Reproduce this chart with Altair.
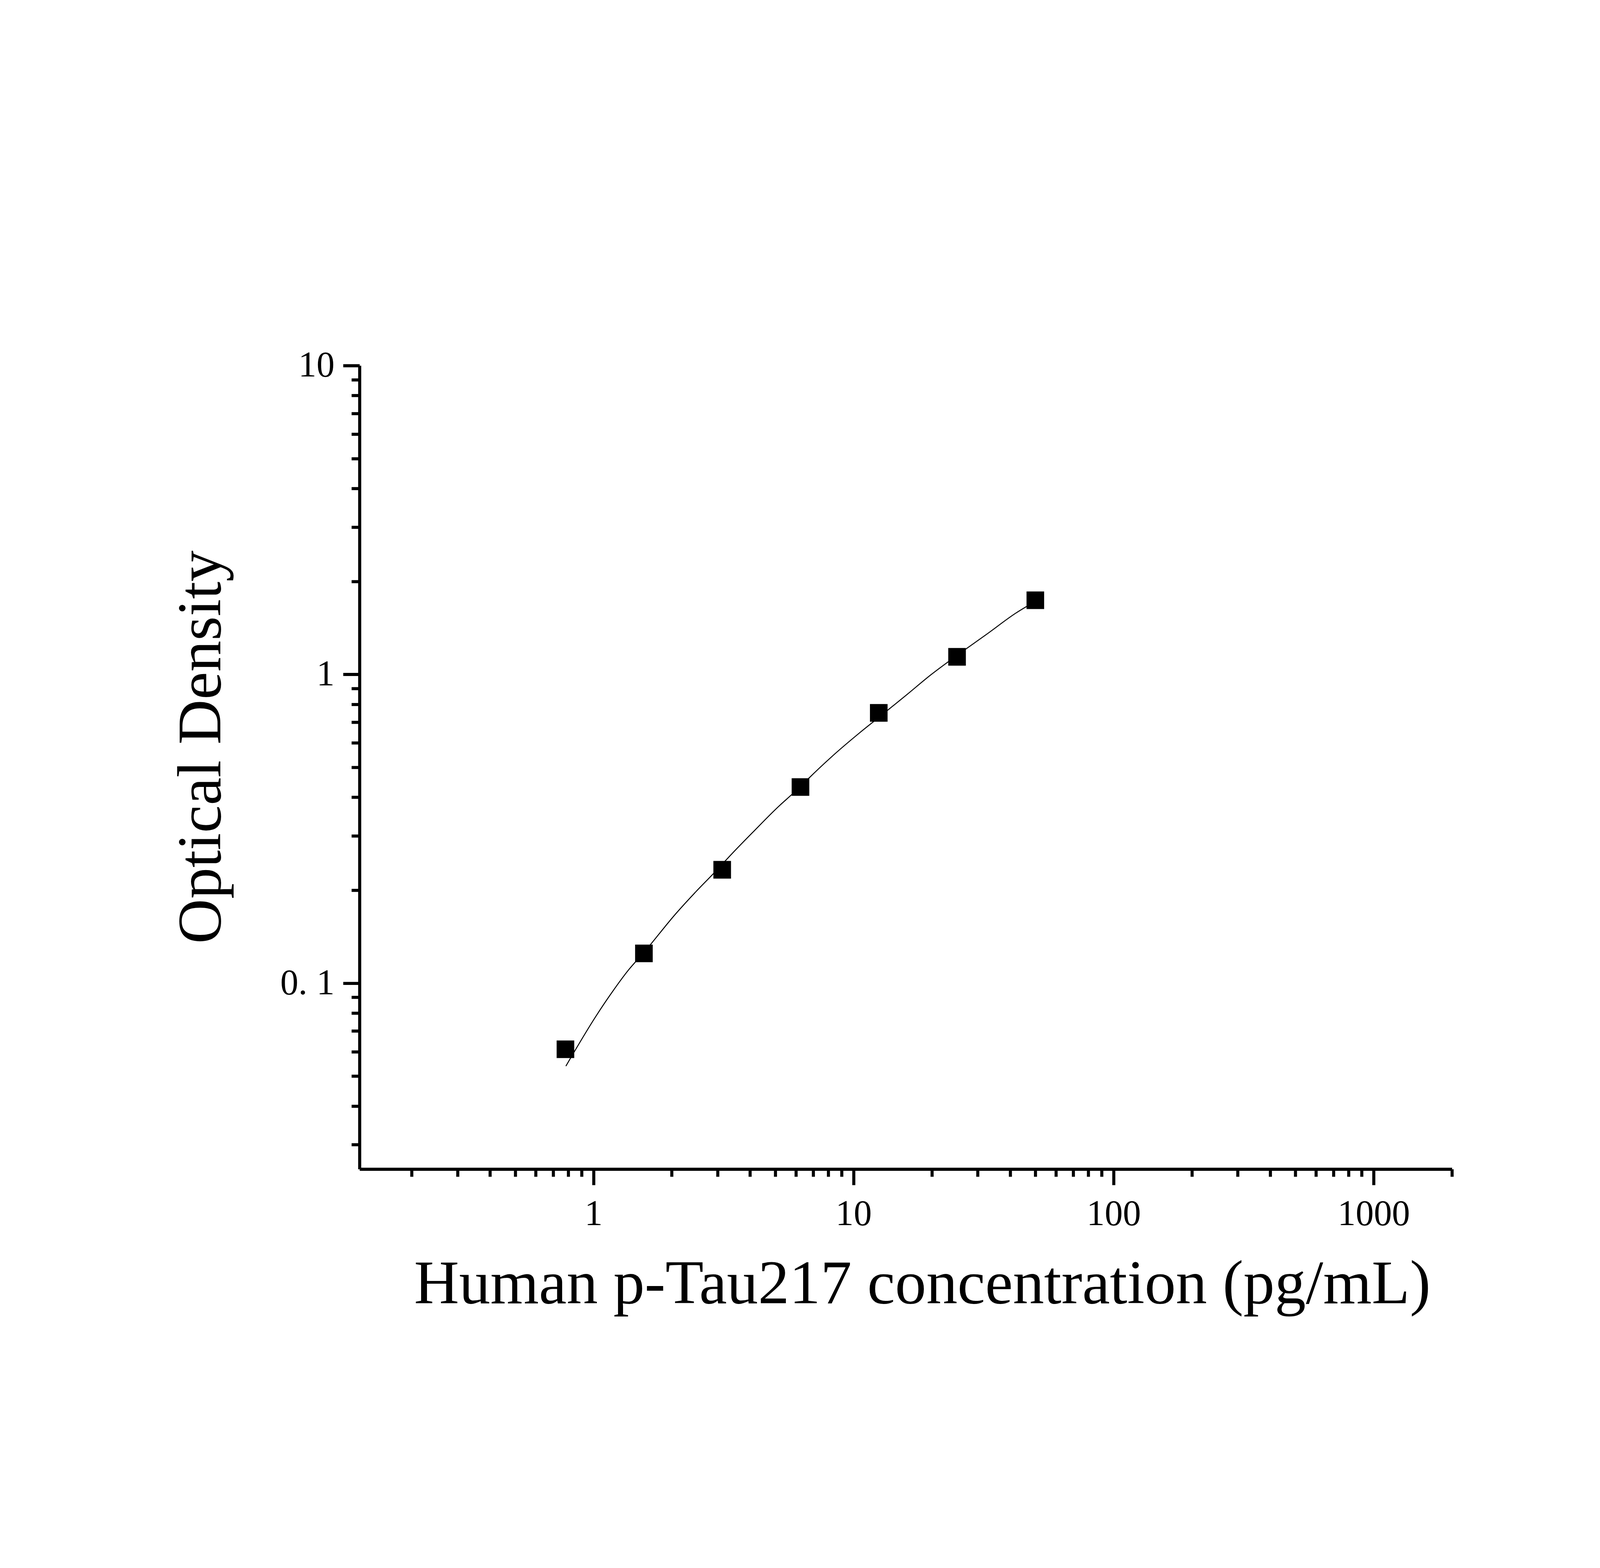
import altair as alt
import pandas as pd

# Standard points (concentration pg/mL, optical density)
conc = [0.78, 1.5625, 3.125, 6.25, 12.5, 25, 50]
od = [0.0611, 0.1249, 0.2330, 0.4318, 0.7506, 1.140, 1.738]

# Fitted curve, points
curve_conc = [0.783, 1.027, 1.160, 1.365, 1.563, 2.071, 2.474, 2.890, 3.426, 4.083,
              5.200, 5.740, 6.228, 6.722, 8.249, 10.51, 12.52, 16.06, 19.86, 24.98,
              32.62, 42.05, 50]
curve_od = [0.0539, 0.0787, 0.0917, 0.1105, 0.1258, 0.1678, 0.1977, 0.2263, 0.2639, 0.3072,
            0.3765, 0.4057, 0.4318, 0.4607, 0.5418, 0.6451, 0.7262, 0.861, 0.998, 1.152,
            1.352, 1.579, 1.724]

# Tick positions (major + minor) and the labelled ones
x_ticks = [0.2, 0.3, 0.4, 0.5, 0.6, 0.7, 0.8, 0.9,
           1, 2, 3, 4, 5, 6, 7, 8, 9,
           10, 20, 30, 40, 50, 60, 70, 80, 90,
           100, 200, 300, 400, 500, 600, 700, 800, 900,
           1000, 2000]
x_major = [1, 10, 100, 1000]
y_ticks = [0.03, 0.04, 0.05, 0.06, 0.07, 0.08, 0.09,
           0.1, 0.2, 0.3, 0.4, 0.5, 0.6, 0.7, 0.8, 0.9,
           1, 2, 3, 4, 5, 6, 7, 8, 9, 10]
y_major = [0.1, 1, 10]

points = pd.DataFrame({"conc": conc, "od": od})
curve = pd.DataFrame({"conc": curve_conc, "od": curve_od})

FONT = "Liberation Serif"

x_test = f"indexof({x_major}, datum.value) >= 0"
y_test = f"indexof({y_major}, datum.value) >= 0"

x_enc = alt.X(
    "conc:Q",
    scale=alt.Scale(type="log", domain=[0.126, 2000], nice=False),
    axis=alt.Axis(
        values=x_ticks,
        labelExpr=f"{x_test} ? format(datum.value, 'd') : ''",
        tickSize={"condition": {"test": x_test, "value": 57}, "value": 27},
        labelPadding=40,
        title="Human p-Tau217 concentration (pg/mL)",
        titleX=2019,
        titleY=481,
        titleAlign="center",
        titleBaseline="alphabetic",
    ),
)
y_enc = alt.Y(
    "od:Q",
    scale=alt.Scale(type="log", domain=[0.025, 10], nice=False),
    axis=alt.Axis(
        values=y_ticks,
        labelExpr="datum.value == 0.1 ? '0. 1' : (datum.value == 1 ? '1' : (datum.value == 10 ? '10' : ''))",
        tickSize={"condition": {"test": y_test, "value": 59}, "value": 29},
        labelPadding=31,
        title="Optical Density",
        titleX=-500,
        titleY=1369,
        titleAngle=270,
        titleAlign="center",
        titleBaseline="alphabetic",
    ),
)

line = alt.Chart(curve).mark_line(
    color="black", strokeWidth=3.5, interpolate="monotone"
).encode(x=x_enc, y=y_enc)

dots = alt.Chart(points).mark_point(
    shape="square", filled=True, color="black", opacity=1, size=4000
).encode(x=x_enc, y=y_enc)

chart = (
    (line + dots)
    .properties(
        width=3920,
        height=2884,
        autosize=alt.AutoSizeParams(type="none"),
        padding={"left": 1279, "top": 504, "right": 520, "bottom": 580},
    )
    .configure_view(stroke="transparent")
    .configure_axis(
        grid=False,
        domainColor="black",
        domainWidth=11,
        tickColor="black",
        tickWidth=11,
        labelFont=FONT,
        labelFontSize=130,
        labelColor="black",
        labelLimit=1000,
        labelOverlap=False,
        labelFlush=False,
        titleFont=FONT,
        titleFontSize=224,
        titleFontWeight="normal",
        titleColor="black",
    )
)

chart.save("out.html", embed_options={"renderer": "svg", "actions": False})
